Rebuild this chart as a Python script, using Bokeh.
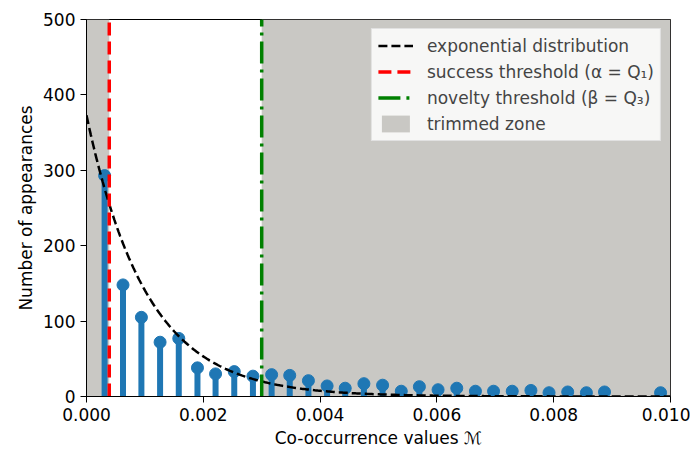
import numpy as np
from bokeh.plotting import figure
from bokeh.models import Range1d, FixedTicker, PrintfTickFormatter, Legend, LegendItem
from bokeh.embed import file_html
from bokeh.resources import INLINE

# ---- data ----
bin_centers = [0.00031, 0.000625, 0.00094, 0.00126, 0.00158, 0.0019, 0.00221,
               0.00253, 0.00285, 0.00317, 0.00348, 0.0038, 0.00412, 0.00443,
               0.00475, 0.00507, 0.00539, 0.0057, 0.00602, 0.00634, 0.00666,
               0.00697, 0.00729, 0.00761, 0.00792, 0.00824, 0.00856, 0.00887,
               0.00983]
counts = [293, 148, 105, 72, 77, 38, 30, 33, 27, 29, 28, 21, 14, 11, 17, 15,
          7, 13, 9, 11, 7, 7, 7, 8, 5, 6, 5, 6, 5]
alpha_q1 = 0.00039
beta_q3 = 0.0030
x_max = 0.010
y_max = 500
exp_scale = 373.0
exp_rate = 974.0
x_ticks = [0.0, 0.002, 0.004, 0.006, 0.008, 0.010]
y_ticks = [0, 100, 200, 300, 400, 500]

FONT = "DejaVu Sans"
FS = "17px"
BLUE = "#1f77b4"
GRAY = "#c9c8c4"

p = figure(width=690, height=450, output_backend="svg", toolbar_location=None,
           x_range=Range1d(0, x_max), y_range=Range1d(0, y_max),
           min_border_left=86, min_border_right=20, min_border_top=19,
           min_border_bottom=52)
p.xgrid.visible = False
p.ygrid.visible = False
p.outline_line_color = "black"
p.outline_line_width = 1
p.outline_line_alpha = 1
p.background_fill_color = "white"

trim_r = p.quad(left=[0, beta_q3], right=[alpha_q1, x_max], bottom=[0, 0],
                top=[y_max, y_max], fill_color=GRAY, line_color=None)

p.segment(x0=bin_centers, y0=[0] * len(counts), x1=bin_centers, y1=counts,
          line_width=6, line_color=BLUE, line_cap="butt")
p.scatter(bin_centers, counts, size=12, fill_color=BLUE, line_color=BLUE)

xs = np.linspace(0, x_max, 400)
ys = exp_scale * np.exp(-exp_rate * xs)
exp_r = p.line(xs, ys, line_color="black", line_width=2.5, line_dash="9 4")

red_r = p.line([alpha_q1, alpha_q1], [0, y_max], line_color="red",
               line_width=3.5, line_dash="13 6")
green_r = p.line([beta_q3, beta_q3], [0, y_max], line_color="green",
                 line_width=3.5, line_dash="22 6 3 6")

legend = Legend(items=[
    LegendItem(label="exponential distribution", renderers=[exp_r]),
    LegendItem(label="success threshold (α = Q₁)", renderers=[red_r]),
    LegendItem(label="novelty threshold (β = Q₃)", renderers=[green_r]),
    LegendItem(label="trimmed zone", renderers=[trim_r]),
], location="top_right")
legend.label_text_font = FONT
legend.label_text_font_size = FS
legend.label_height = 21
legend.glyph_height = 21
legend.glyph_width = 35
legend.label_standoff = 14
legend.spacing = 5
legend.padding = 6
legend.margin = 9
legend.border_line_color = "#cccccc"
legend.border_line_width = 1
legend.background_fill_color = "white"
legend.background_fill_alpha = 0.85
p.add_layout(legend)

for ax in (p.xaxis[0], p.yaxis[0]):
    ax.major_label_text_font = FONT
    ax.major_label_text_font_size = FS
    ax.axis_label_text_font = FONT
    ax.axis_label_text_font_size = FS
    ax.axis_label_text_font_style = "normal"
    ax.major_tick_out = 6
    ax.major_tick_in = 0
    ax.minor_tick_out = 0
    ax.minor_tick_in = 0
    ax.major_label_standoff = 5
    ax.axis_label_standoff = 4
    ax.axis_line_color = "black"
    ax.major_tick_line_color = "black"
    ax.major_label_text_color = "black"
    ax.axis_label_text_color = "black"

p.xaxis[0].ticker = FixedTicker(ticks=x_ticks)
p.xaxis[0].formatter = PrintfTickFormatter(format="%.3f")
p.yaxis[0].ticker = FixedTicker(ticks=y_ticks)
p.xaxis[0].axis_label = "Co-occurrence values ℳ"
p.yaxis[0].axis_label = "Number of appearances"

open("out.html", "w").write(file_html(p, INLINE))
